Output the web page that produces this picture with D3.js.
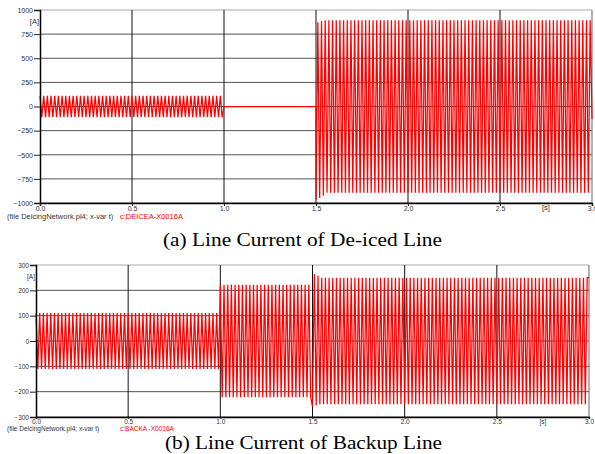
<!DOCTYPE html>
<html>
<head>
<meta charset="utf-8">
<script src="https://cdn.jsdelivr.net/npm/d3@7"></script>
<style>
  body { margin: 0; background: #fff; }
  svg { display: block; }
</style>
</head>
<body>
<div id="chart"></div>
<script>
// x ticks shared by both panels (seconds)
const xTicks = [0, 0.5, 1.0, 1.5, 2.0, 2.5, 3.0];
const xTickLabels = ['0.0', '0.5', '1.0', '1.5', '2.0', '2.5', '3.0'];

// (a) de-iced line: envelope segments
const deicedTicks = [-1000, -750, -500, -250, 0, 250, 500, 750, 1000];
const deicedSegStart = [0, 1.0, 1.5];
const deicedSegEnd = [1.0, 1.5, 3.0];
const deicedAmp = [112, 0, 895];
// first peaks after re-energising at 1.5 s
const deicedOnset = [-965, 872, -948, 885, -925];
const deicedLast = -130;

// (b) backup line
const backupTicks = [-300, -200, -100, 0, 100, 200, 300];
const backupSegStart = [0, 1.0, 1.5];
const backupSegEnd = [1.0, 1.5, 3.0];
const backupAmp = [110, 222, 250];
const backupOnset = [-258, 264, -255, 258];
const backupLast = 250;

// half period of the 50 Hz signal
const halfPeriod = 0.01;

const buildPeaks = (starts, ends, amps, onsetSeg, onset, last) => {
  const pts = [];
  starts.forEach((t0, i) => {
    const t1 = ends[i];
    const amp = amps[i];
    if (amp === 0) {
      pts.push([t0, 0], [t1, 0]);
      return;
    }
    let k = 0;
    for (let t = t0; t < t1 - 1e-9; t += halfPeriod, k++) {
      let v = (k % 2 === 0 ? 1 : -1) * amp;
      if (i === onsetSeg) {
        // keep the sign pattern of the onset peaks going
        const sign = Math.sign(onset[0]) * (k % 2 === 0 ? 1 : -1);
        v = k < onset.length ? onset[k] : sign * amp;
      }
      pts.push([t, v]);
    }
  });
  pts.push([3.0, last]);
  return pts;
};

const draw = () => {
  const svg = d3.select('#chart')
    .append('svg')
    .attr('width', 595)
    .attr('height', 454);

  const drawPanel = (cfg) => {
    const xScale = d3.scaleLinear()
      .domain([0, 3])
      .range([cfg.left, cfg.right]);

    const yScale = d3.scaleLinear()
      .domain([cfg.ticks[0], cfg.ticks[cfg.ticks.length - 1]])
      .range([cfg.bottom, cfg.top]);

    const g = svg.append('g');

    // horizontal grid
    g.append('g')
      .selectAll('line')
      .data(cfg.ticks)
      .join('line')
      .attr('x1', cfg.left)
      .attr('x2', cfg.right)
      .attr('y1', (d) => yScale(d))
      .attr('y2', (d) => yScale(d))
      .attr('stroke', (d, i) => i === cfg.ticks.length - 1 ? '#aaa' : '#555')
      .attr('stroke-width', 1);

    // vertical grid
    g.append('g')
      .selectAll('line')
      .data(xTicks.slice(1))
      .join('line')
      .attr('x1', (d) => xScale(d))
      .attr('x2', (d) => xScale(d))
      .attr('y1', cfg.top)
      .attr('y2', cfg.bottom)
      .attr('stroke', (d) => d === 3 ? '#666' : '#111')
      .attr('stroke-width', 1);

    // waveform
    const line = d3.line()
      .x((d) => xScale(d[0]))
      .y((d) => yScale(d[1]));

    g.append('path')
      .datum(cfg.peaks)
      .attr('d', line)
      .attr('fill', 'none')
      .attr('stroke', '#ff0000')
      .attr('stroke-width', 1.25);

    // axes
    const yAxis = d3.axisLeft(yScale)
      .tickValues(cfg.ticks)
      .tickSize(6)
      .tickPadding(1)
      .tickFormat(d3.format('d'));

    const yAxisGroup = g.append('g')
      .attr('transform', `translate(${cfg.left},0)`)
      .call(yAxis);

    const xAxis = d3.axisBottom(xScale)
      .tickValues(xTicks)
      .tickSize(cfg.xTickSize)
      .tickPadding(0)
      .tickFormat((d, i) => xTickLabels[i]);

    const xAxisGroup = g.append('g')
      .attr('transform', `translate(0,${cfg.bottom})`)
      .call(xAxis);

    [yAxisGroup, xAxisGroup].forEach((ax) => {
      ax.select('.domain').attr('stroke', '#000').attr('stroke-width', 1.5);
      ax.selectAll('.tick line').attr('stroke', '#222');
      ax.selectAll('.tick text')
        .attr('fill', '#333')
        .style('font-family', 'Liberation Sans, Arial, sans-serif')
        .style('font-size', cfg.tickFont);
    });

    const small = (sel) => sel
      .style('font-family', 'Liberation Sans, Arial, sans-serif')
      .style('font-size', cfg.capFont);

    g.append('text')
      .attr('x', cfg.left - 1)
      .attr('y', cfg.top + 14)
      .attr('text-anchor', 'end')
      .attr('fill', '#333')
      .text('[A]')
      .call(small);

    g.append('text')
      .attr('x', xScale(2.75))
      .attr('y', cfg.bottom + 7)
      .attr('text-anchor', 'middle')
      .attr('fill', '#333')
      .text('[s]')
      .call(small);

    g.append('text')
      .attr('x', 7)
      .attr('y', cfg.bottom + cfg.capGap)
      .attr('fill', '#333')
      .text('(file DeicingNetwork.pl4; x-var t)')
      .call(small);

    g.append('text')
      .attr('x', 120)
      .attr('y', cfg.bottom + cfg.capGap)
      .attr('fill', '#ff0000')
      .text(cfg.signal)
      .call(small);

    svg.append('text')
      .attr('x', cfg.captionX)
      .attr('y', cfg.captionY)
      .attr('text-anchor', 'middle')
      .attr('textLength', cfg.captionW)
      .attr('lengthAdjust', 'spacingAndGlyphs')
      .attr('fill', '#000')
      .style('font-family', 'Liberation Serif, Times New Roman, serif')
      .style('font-size', '19px')
      .text(cfg.caption);
  };

  drawPanel({
    left: 40, right: 592, top: 10, bottom: 203,
    ticks: deicedTicks,
    peaks: buildPeaks(deicedSegStart, deicedSegEnd, deicedAmp, 2, deicedOnset, deicedLast),
    signal: 'c:DEICEA-X0016A',
    xTickSize: 3, tickFont: '7px', capFont: '7.5px', capGap: 16,
    caption: '(a) Line Current of De-iced Line',
    captionX: 302.5, captionY: 246, captionW: 279
  });

  drawPanel({
    left: 36, right: 589, top: 265, bottom: 417,
    ticks: backupTicks,
    peaks: buildPeaks(backupSegStart, backupSegEnd, backupAmp, 2, backupOnset, backupLast),
    signal: 'c:BACKA -X0016A',
    xTickSize: 2, tickFont: '6.5px', capFont: '6.5px', capGap: 14,
    caption: '(b) Line Current of Backup Line',
    captionX: 303.5, captionY: 449, captionW: 277
  });
};

draw();
</script>
</body>
</html>
